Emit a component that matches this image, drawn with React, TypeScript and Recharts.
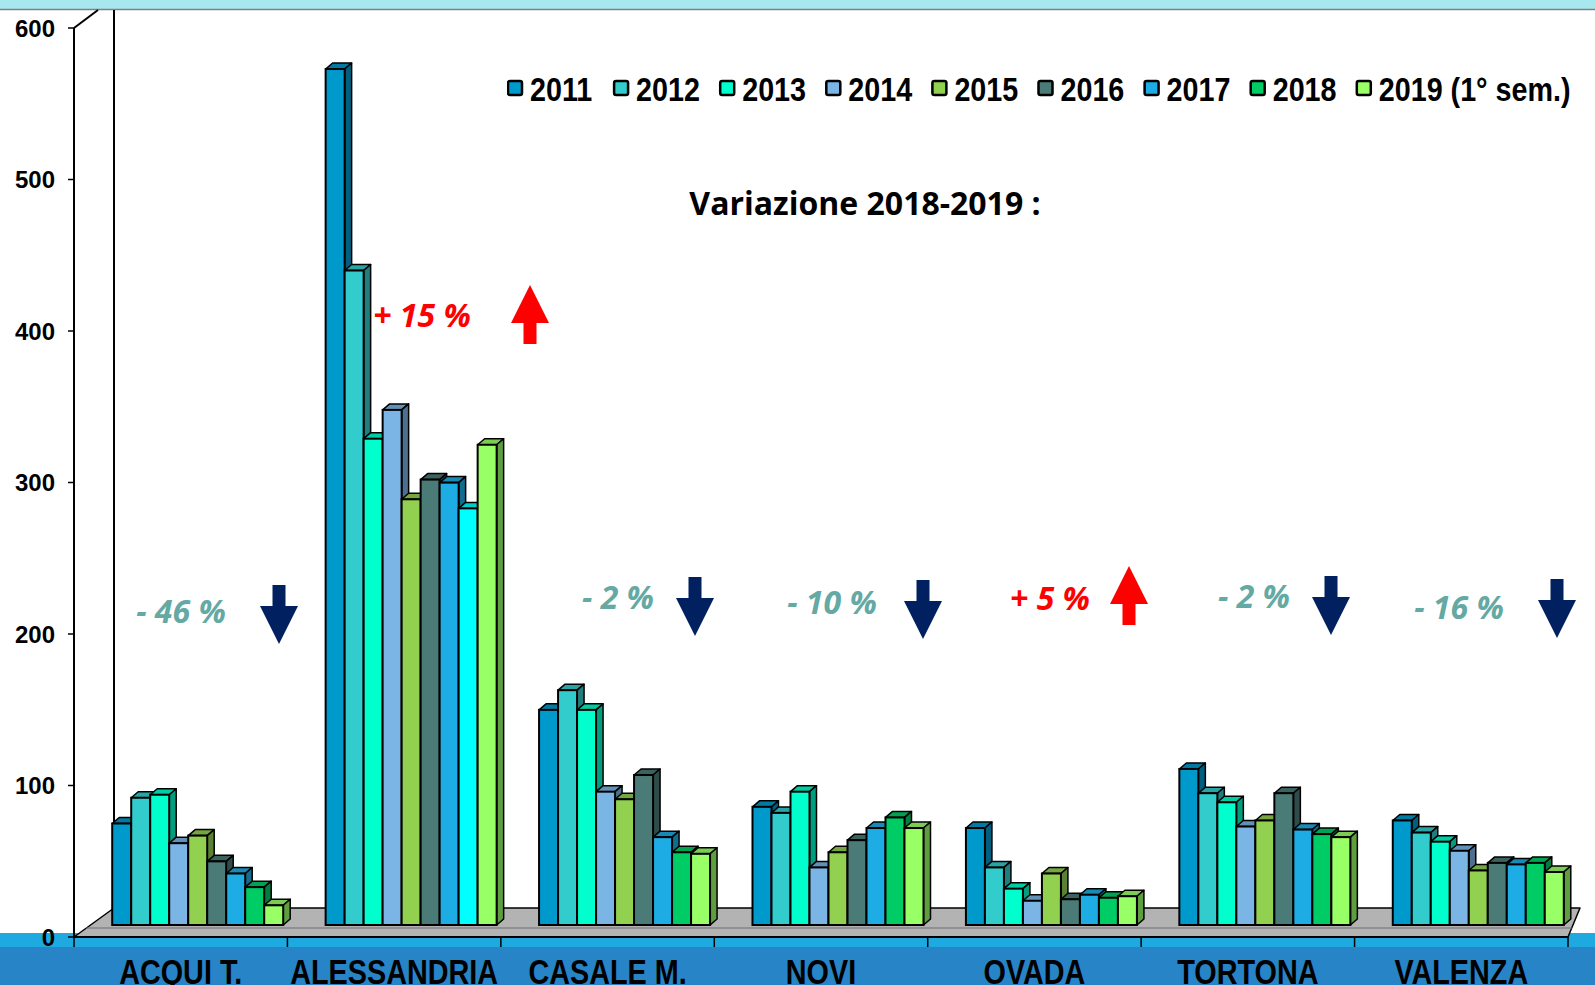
import React from "react";
import { BarChart, Bar, XAxis, YAxis, Legend, Cell } from "recharts";

// comuni
const categories = ["ACQUI T.", "ALESSANDRIA", "CASALE M.", "NOVI", "OVADA", "TORTONA", "VALENZA"];

const years = ["2011", "2012", "2013", "2014", "2015", "2016", "2017", "2018", "2019 (1° sem.)"];

const v2011 = [67, 565, 142, 78, 64, 103, 69];
const v2012 = [84, 432, 155, 74, 38, 87, 61];
const v2013 = [86, 321, 142, 88, 24, 81, 55];
const v2014 = [54, 340, 88, 38, 16, 65, 49];
const v2015 = [59, 281, 83, 48, 34, 69, 36];
const v2016 = [42, 294, 99, 56, 17, 87, 41];
const v2017 = [34, 292, 58, 64, 20, 63, 40];
const v2018 = [25, 275, 48, 71, 18, 60, 41];
const v2019 = [13, 317, 47, 64, 19, 58, 35];

const yTicks = [0, 100, 200, 300, 400, 500, 600];

const variations = ["- 46 %", "+ 15 %", "- 2 %", "- 10 %", "+ 5 %", "- 2 %", "- 16 %"];

const colors = ["#0099CC", "#33CCCC", "#00FFCC", "#7AB5E5", "#92D050", "#4A7B77", "#1EACE4", "#00CC66", "#99FF66"];

const seriesValues = [v2011, v2012, v2013, v2014, v2015, v2016, v2017, v2018, v2019];

const rows = categories.map((name, i) => {
  const row: Record<string, string | number> = { name };
  seriesValues.forEach((vals, s) => {
    row["s" + s] = vals[i];
  });
  return row;
});

const W = 1595;
const H = 985;
const PLOT_LEFT = 74;
const PLOT_RIGHT = 1568;
const AXIS_Y = 937;

// 3d depth offsets
const DX = 19;
const DY = -12;
const DEPTH_X = 7;
const DEPTH_Y = 6;

const shade = (hex: string, f: number) => {
  if (!hex || hex[0] !== "#") return hex;
  const n = parseInt(hex.slice(1), 16);
  const r = Math.round(((n >> 16) & 255) * f);
  const g = Math.round(((n >> 8) & 255) * f);
  const b = Math.round((n & 255) * f);
  return `rgb(${r},${g},${b})`;
};

const Bar3D = (props: any) => {
  const { x, y, width, height, fill } = props;
  if (!height || height <= 0) return <g />;
  const fx = x + DX;
  const fy = y + DY;
  const top = `${fx},${fy} ${fx + DEPTH_X},${fy - DEPTH_Y} ${fx + width + DEPTH_X},${fy - DEPTH_Y} ${fx + width},${fy}`;
  const side = `${fx + width},${fy} ${fx + width + DEPTH_X},${fy - DEPTH_Y} ${fx + width + DEPTH_X},${fy + height - DEPTH_Y} ${fx + width},${fy + height}`;
  return (
    <g>
      <polygon points={top} fill={shade(fill, 0.8)} stroke="#000" strokeWidth={1.5} strokeLinejoin="round" />
      <polygon points={side} fill={shade(fill, 0.62)} stroke="#000" strokeWidth={1.5} strokeLinejoin="round" />
      <rect x={fx} y={fy} width={width} height={height} fill={fill} stroke="#000" strokeWidth={2} />
    </g>
  );
};

const CatTick = (props: any) => {
  const { x, y, payload } = props;
  return (
    <text
      transform={`translate(${x},${y + 47}) scale(0.8,1)`}
      textAnchor="middle"
      fontFamily="'Liberation Sans', Arial, sans-serif"
      fontWeight={700}
      fontSize={36}
      fill="#000"
    >
      {payload.value}
    </text>
  );
};

const LegendContent = () => (
  <svg width={1090} height={40}>
    {years.map((yr, i) => (
      <g key={yr} transform={`translate(${i * 106.1},0)`}>
        <rect x={1} y={11} width={14} height={14} rx={2} fill={colors[i]} stroke="#000" strokeWidth={2.5} />
        <text
          transform="translate(23,31) scale(0.87,1)"
          fontFamily="'Liberation Sans', Arial, sans-serif"
          fontWeight={700}
          fontSize={33}
          fill="#000"
        >
          {yr}
        </text>
      </g>
    ))}
  </svg>
);

const Background = () => {
  const band = (PLOT_RIGHT - PLOT_LEFT) / categories.length;
  return (
    <svg width={W} height={H} style={{ position: "absolute", left: 0, top: 0 }}>
      <rect x={0} y={0} width={W} height={9} fill="#A6E8EE" />
      <line x1={0} y1={9.5} x2={W} y2={9.5} stroke="#808080" strokeWidth={1.5} />
      <rect x={0} y={933} width={W} height={14} fill="#1EA9E1" />
      <rect x={0} y={947} width={W} height={H - 947} fill="#2784C7" />
      {/* walls */}
      <line x1={114} y1={10} x2={114} y2={908} stroke="#000" strokeWidth={2} />
      <line x1={PLOT_LEFT} y1={28} x2={98} y2={10} stroke="#000" strokeWidth={2} />
      {/* floor */}
      <polygon
        points={`${PLOT_LEFT},${AXIS_Y} 114,908 1580,908 ${PLOT_RIGHT},${AXIS_Y}`}
        fill="#B3B3B3"
        stroke="#000"
        strokeWidth={1.5}
        strokeLinejoin="round"
      />
      <line x1={86} y1={928} x2={1572} y2={928} stroke="#6E6E6E" strokeWidth={1.2} />
      {categories.concat([""]).map((_, i) => (
        <line
          key={i}
          x1={PLOT_LEFT + i * band}
          y1={AXIS_Y}
          x2={PLOT_LEFT + i * band}
          y2={947}
          stroke="#000"
          strokeWidth={1.5}
        />
      ))}
    </svg>
  );
};

// annotation shapes (slide text boxes and arrows)
const notePos = [
  { tx: 181, ty: 623, ax: 279, ay: 585 },
  { tx: 422, ty: 327, ax: 530, ay: 285 },
  { tx: 618, ty: 609, ax: 695, ay: 577 },
  { tx: 832, ty: 614, ax: 923, ay: 580 },
  { tx: 1050, ty: 610, ax: 1129, ay: 566 },
  { tx: 1254, ty: 608, ax: 1331, ay: 576 },
  { tx: 1459, ty: 619, ax: 1557, ay: 579 },
];

const Arrow = ({ cx, top, up, color }: { cx: number; top: number; up: boolean; color: string }) => {
  const hw = 19;
  const sw = 6.5;
  const hh = 38;
  const total = 59;
  const pts = up
    ? [
        [cx, top],
        [cx + hw, top + hh],
        [cx + sw, top + hh],
        [cx + sw, top + total],
        [cx - sw, top + total],
        [cx - sw, top + hh],
        [cx - hw, top + hh],
      ]
    : [
        [cx - sw, top],
        [cx + sw, top],
        [cx + sw, top + total - hh],
        [cx + hw, top + total - hh],
        [cx, top + total],
        [cx - hw, top + total - hh],
        [cx - sw, top + total - hh],
      ];
  return <polygon points={pts.map((p) => p.join(",")).join(" ")} fill={color} />;
};

const Annotations = () => (
  <svg width={W} height={H} style={{ position: "absolute", left: 0, top: 0, pointerEvents: "none" }}>
    <text
      x={865}
      y={215}
      textAnchor="middle"
      fontFamily="'Open Sans', sans-serif"
      fontWeight={700}
      fontSize={32}
      fill="#000"
    >
      Variazione 2018-2019 :
    </text>
    {variations.map((t, i) => {
      const up = t.startsWith("+");
      const p = notePos[i];
      return (
        <g key={i}>
          <text
            x={p.tx}
            y={p.ty}
            textAnchor="middle"
            fontFamily="'Open Sans', sans-serif"
            fontStyle="italic"
            fontWeight={700}
            fontSize={32}
            fill={up ? "#FF0000" : "#64A9A3"}
          >
            {t}
          </text>
          <Arrow cx={p.ax} top={p.ay} up={up} color={up ? "#FF0000" : "#002060"} />
        </g>
      );
    })}
  </svg>
);

export default function App() {
  return (
    <div
      style={{
        position: "fixed",
        left: 0,
        top: 0,
        width: W,
        height: H,
        overflow: "hidden",
        background: "#fff",
      }}
    >
      <Background />
      <BarChart
        width={W}
        height={H}
        data={rows}
        margin={{ top: 28, right: W - PLOT_RIGHT, bottom: 0, left: 0 }}
        barGap={0}
        barCategoryGap="9%"
      >
        <XAxis
          dataKey="name"
          height={H - AXIS_Y}
          interval={0}
          axisLine={{ stroke: "#000", strokeWidth: 2 }}
          tickLine={false}
          tickSize={0}
          tickMargin={0}
          tick={<CatTick />}
        />
        <YAxis
          width={PLOT_LEFT}
          domain={[0, 600]}
          ticks={yTicks}
          interval={0}
          tickSize={6}
          tickMargin={13}
          axisLine={{ stroke: "#000", strokeWidth: 2 }}
          tickLine={{ stroke: "#000", strokeWidth: 1.5 }}
          tick={{ fill: "#000", fontSize: 24, fontWeight: 700, fontFamily: "'Liberation Sans', Arial, sans-serif" }}
        />
        <Legend
          layout="horizontal"
          verticalAlign="middle"
          align="center"
          wrapperStyle={{ left: 507, top: 70, width: 1090 }}
          content={<LegendContent />}
        />
        {seriesValues.map((_, s) => (
          <Bar key={s} dataKey={"s" + s} name={years[s]} fill={colors[s]} shape={<Bar3D />} isAnimationActive={false}>
            {categories.map((c, i) => (
              <Cell key={c} fill={s === 7 && c === "ALESSANDRIA" ? "#00FFFF" : colors[s]} />
            ))}
          </Bar>
        ))}
      </BarChart>
      <Annotations />
    </div>
  );
}
